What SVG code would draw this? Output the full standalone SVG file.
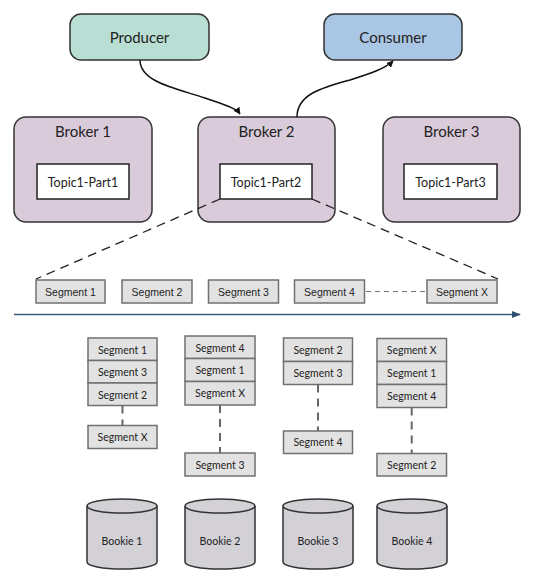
<svg xmlns="http://www.w3.org/2000/svg" width="534" height="581" viewBox="0 0 534 581">
<style>
.t{font-family:Lato,"Open Sans","Noto Sans","Liberation Sans",sans-serif;fill:#222;text-anchor:middle;dominant-baseline:central}
.big{font-size:15px}
.mid{font-size:12.5px}
.sm{font-size:10.5px}
.ar{font-family:"Liberation Sans",Arial,sans-serif;font-size:10.5px;fill:#222;text-anchor:middle;dominant-baseline:central}
.seg{fill:#e2e2e2;stroke:#707070;stroke-width:1.5}
.brk{fill:#d9cbd9;stroke:#333;stroke-width:1.5}
.topic{fill:#fff;stroke:#222;stroke-width:1.5}
.cyl{fill:#d3d1d6;stroke:#333;stroke-width:1.5}
.dash{fill:none;stroke:#222;stroke-width:1.3;stroke-dasharray:9,6}
.gdash{fill:none;stroke:#666;stroke-width:2;stroke-dasharray:8,6}
</style>
<defs>
<marker id="ah" viewBox="0 0 10 10" refX="9" refY="5" markerWidth="7" markerHeight="7" orient="auto" markerUnits="userSpaceOnUse"><path d="M0,0 L10,5 L0,10 z" fill="#111"/></marker>
<marker id="ah2" viewBox="0 0 10 10" refX="9" refY="5" markerWidth="9" markerHeight="9" orient="auto" markerUnits="userSpaceOnUse"><path d="M0,1 L10,5 L0,9 z" fill="#2f4f70"/></marker>
</defs>
<rect width="534" height="581" fill="#fff"/>

<g id="producer"><rect x="70" y="14" width="139" height="46" rx="11" fill="#b9ded3" stroke="#333" stroke-width="1.5"/><text class="t big" x="139.5" y="37">Producer</text></g>
<g id="consumer"><rect x="324" y="14" width="138" height="46" rx="11" fill="#a9c6e4" stroke="#333" stroke-width="1.5"/><text class="t big" x="393" y="37">Consumer</text></g>

<g id="broker1"><rect class="brk" x="14" y="117" width="138" height="105" rx="12"/><text class="t big" x="83" y="131">Broker 1</text>
<rect class="topic" x="37" y="164" width="92" height="35"/><text class="t mid" x="83" y="182">Topic1-Part1</text></g>
<g id="broker2"><rect class="brk" x="198" y="117" width="137" height="105" rx="12"/><text class="t big" x="266.5" y="131">Broker 2</text>
<rect class="topic" x="220" y="164" width="92" height="35"/><text class="t mid" x="266" y="182">Topic1-Part2</text></g>
<g id="broker3"><rect class="brk" x="383" y="117" width="137" height="105" rx="12"/><text class="t big" x="451.5" y="131">Broker 3</text>
<rect class="topic" x="404" y="164" width="93" height="35"/><text class="t mid" x="450.5" y="182">Topic1-Part3</text></g>

<g id="segrow">
<g id="s1"><rect class="seg" x="36" y="280" width="69" height="23"/><text class="ar" x="70.5" y="291.5">Segment 1</text></g>
<g id="s2"><rect class="seg" x="122" y="280" width="70" height="23"/><text class="ar" x="157" y="291.5">Segment 2</text></g>
<g id="s3"><rect class="seg" x="208.5" y="280" width="70" height="23"/><text class="ar" x="243.5" y="291.5">Segment 3</text></g>
<g id="s4"><rect class="seg" x="294.5" y="280" width="70" height="23"/><text class="ar" x="329.5" y="291.5">Segment 4</text></g>
<g id="sx"><rect class="seg" x="427" y="280" width="70" height="23"/><text class="ar" x="462" y="291.5">Segment X</text></g>
</g>

<g id="stack1">
<rect class="seg" x="88" y="338" width="69" height="22.5"/><text class="t sm" x="122.5" y="349.5">Segment 1</text>
<rect class="seg" x="88" y="360.5" width="69" height="22.5"/><text class="t sm" x="122.5" y="372">Segment 3</text>
<rect class="seg" x="88" y="383" width="69" height="22.5"/><text class="t sm" x="122.5" y="394.5">Segment 2</text>
<rect class="seg" x="88" y="425.5" width="69" height="23"/><text class="t sm" x="122.5" y="437">Segment X</text>
</g>
<g id="stack2">
<rect class="seg" x="185" y="336" width="70" height="22.5"/><text class="t sm" x="220" y="347.5">Segment 4</text>
<rect class="seg" x="185" y="358.5" width="70" height="23"/><text class="t sm" x="220" y="370">Segment 1</text>
<rect class="seg" x="185" y="381.5" width="70" height="23.5"/><text class="t sm" x="220" y="393">Segment X</text>
<rect class="seg" x="185" y="453" width="70" height="23"/><text class="t sm" x="220" y="464.5">Segment 3</text>
</g>
<g id="stack3">
<rect class="seg" x="283.5" y="338" width="69" height="23.5"/><text class="t sm" x="318" y="350">Segment 2</text>
<rect class="seg" x="283.5" y="361.5" width="69" height="23"/><text class="t sm" x="318" y="373">Segment 3</text>
<rect class="seg" x="283.5" y="431" width="69" height="22.5"/><text class="t sm" x="318" y="442">Segment 4</text>
</g>
<g id="stack4">
<rect class="seg" x="377" y="338.5" width="69.5" height="23"/><text class="t sm" x="411.7" y="350">Segment X</text>
<rect class="seg" x="377" y="361.5" width="69.5" height="23"/><text class="t sm" x="411.7" y="373">Segment 1</text>
<rect class="seg" x="377" y="384.5" width="69.5" height="23"/><text class="t sm" x="411.7" y="396">Segment 4</text>
<rect class="seg" x="377" y="453.5" width="69.5" height="22.5"/><text class="t sm" x="411.7" y="465">Segment 2</text>
</g>

<g id="bookie1"><path class="cyl" d="M87,506 L87,562 A35,7 0 0 0 157,562 L157,506"/><ellipse class="cyl" cx="122" cy="506" rx="35" ry="7"/><text class="t sm" x="122" y="541">Bookie 1</text></g>
<g id="bookie2"><path class="cyl" d="M185,506 L185,562 A35,7 0 0 0 255,562 L255,506"/><ellipse class="cyl" cx="220" cy="506" rx="35" ry="7"/><text class="t sm" x="220" y="541">Bookie 2</text></g>
<g id="bookie3"><path class="cyl" d="M283,506 L283,562 A35,7 0 0 0 353,562 L353,506"/><ellipse class="cyl" cx="318" cy="506" rx="35" ry="7"/><text class="t sm" x="318" y="541">Bookie 3</text></g>
<g id="bookie4"><path class="cyl" d="M377,506 L377,562 A35,7 0 0 0 447,562 L447,506"/><ellipse class="cyl" cx="412" cy="506" rx="35" ry="7"/><text class="t sm" x="412" y="541">Bookie 4</text></g>

<g id="connectors">
<path d="M140,60 C140,82 175,88 205,98 C225,105 236,108 240,114" fill="none" stroke="#111" stroke-width="1.5" marker-end="url(#ah)"/>
<path d="M297,117 C297,95 320,88 350,80 C372,73 386,68 393,61" fill="none" stroke="#111" stroke-width="1.5" marker-end="url(#ah)"/>
<path class="dash" d="M220,199 L36,279"/>
<path class="dash" d="M312,199 L498,279"/>
<path d="M366,291.5 L427,291.5" fill="none" stroke="#777" stroke-width="1.2" stroke-dasharray="5,4"/>
<path d="M14,314.5 L520,314.5" stroke="#3c5a78" stroke-width="1.5" marker-end="url(#ah2)"/>
<path class="gdash" d="M122.5,405.5 L122.5,425.5"/>
<path class="gdash" d="M220,405 L220,453"/>
<path class="gdash" d="M318,384.5 L318,431"/>
<path class="gdash" d="M411.7,407.5 L411.7,453.5"/>
</g>
</svg>
